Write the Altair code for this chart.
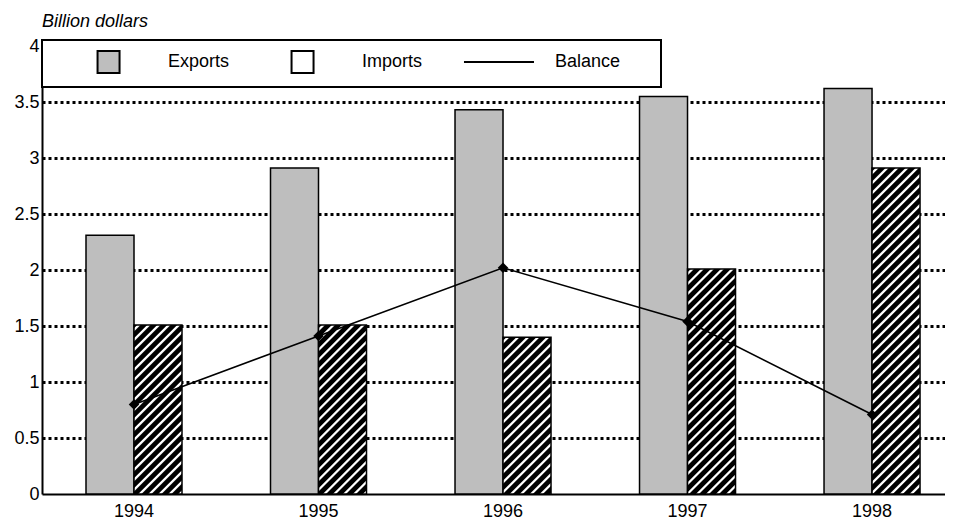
import altair as alt
import pandas as pd

# ---- data ----
years = ["1994", "1995", "1996", "1997", "1998"]
exports = [2.31, 2.91, 3.43, 3.55, 3.62]
imports = [1.51, 1.51, 1.40, 2.01, 2.91]
balance = [0.80, 1.41, 2.02, 1.54, 0.71]
series_names = ["Exports", "Imports", "Balance"]
y_ticks = [0, 0.5, 1, 1.5, 2, 2.5, 3, 3.5, 4]

FONT = "Liberation Sans"
PLOT_W, PLOT_H = 903, 448
Y_MAX = 4

bars_df = pd.DataFrame(
    [{"year": y, "series": "Exports", "value": v} for y, v in zip(years, exports)]
    + [{"year": y, "series": "Imports", "value": v} for y, v in zip(years, imports)]
)
bal_df = pd.DataFrame({"year": years, "balance": balance})
leg_df = pd.DataFrame({"series": series_names})

# x band scale geometry
P_IN, P_OUT, ALIGN = 0.4797, 0.1869, 0.638
step = PLOT_W / (len(years) - P_IN + 2 * P_OUT)
bar_w = step * (1 - P_IN) / 2
px_per_unit = PLOT_H / Y_MAX


def hatch(v):
    """Diagonal white-on-black stripes as a linear gradient in bbox units."""
    W, H = bar_w, v * px_per_unit
    s = (W + H) / (W * W + H * H)
    n = (W + H) / 10.0
    d = 1.0 / n
    stops = []
    k = 0
    while k * d < 1:
        for frac, col in [(0, "#000000"), (0.27, "#000000"), (0.41, "#ffffff"),
                          (0.59, "#ffffff"), (0.73, "#000000")]:
            t = k * d + frac * d
            if t <= 1:
                stops.append({"offset": round(t, 5), "color": col})
        k += 1
    stops.append({"offset": 1, "color": "#000000"})
    return {"gradient": "linear", "x1": 0, "y1": 0,
            "x2": round(s * W, 5), "y2": round(s * H, 5), "stops": stops}


fill_cond = [
    {"test": f"datum.series === 'Imports' && datum.year === '{y}'", "value": hatch(v)}
    for y, v in zip(years, imports)
]

x_scale = alt.Scale(paddingInner=P_IN, paddingOuter=P_OUT, align=ALIGN)
y_scale = alt.Scale(domain=[0, Y_MAX], nice=False, zero=True)

x_axis = alt.Axis(title=None, labelAngle=0, ticks=False, tickSize=0, labelPadding=8,
                  domainColor="black", domainWidth=2, grid=False)
y_axis = alt.Axis(title=None, values=y_ticks, format=".1~f", ticks=False, tickSize=0,
                  labelPadding=3, domainColor="black", domainWidth=2,
                  grid=True, gridColor="black", gridDash=[3, 3], gridWidth=3,
                  gridOpacity={"condition": {"test": "datum.value === 0 || datum.value === 4",
                                             "value": 0}, "value": 1})

bars = alt.Chart(bars_df).mark_bar(stroke="black", strokeWidth=1.5).encode(
    x=alt.X("year:N", scale=x_scale, axis=x_axis, sort=years),
    xOffset=alt.XOffset("series:N", scale=alt.Scale(domain=["Exports", "Imports"],
                                                    paddingInner=0, paddingOuter=0)),
    y=alt.Y("value:Q", scale=y_scale, axis=y_axis),
    fill={"condition": fill_cond, "value": "#bebebe"},
)

line = alt.Chart(bal_df).mark_line(color="black", strokeWidth=1.6).encode(
    x=alt.X("year:N", sort=years),
    y=alt.Y("balance:Q"),
)
markers = alt.Chart(bal_df).mark_point(shape="diamond", filled=True, color="black",
                                       size=110, opacity=1).encode(
    x=alt.X("year:N", sort=years),
    y=alt.Y("balance:Q"),
)

# legend symbols (custom paths; leading moves keep every symbol's bounds equal)
shift = 4.05
sq = f"M-1,-1M1,1M{shift-1:.3f},-1H{shift+1:.3f}V1H{shift-1:.3f}Z"
ln = "M-1,-1M1,1M1.18,0H7.545"
pad = "\u00a0" * 6 + "\u200b"
leg = alt.Legend(
    title=None, orient="none", legendX=0, legendY=-6, direction="horizontal",
    strokeColor="black", fillColor="white", padding=10,
    symbolSize=484, symbolStrokeWidth=2, symbolOffset=0, symbolOpacity=1,
    labelFont=FONT, labelFontSize=18, labelColor="black", labelOffset=92,
    labelLimit=400, columnPadding=13,
    labelExpr=f"datum.label === 'Balance' ? 'Balance{pad}' : datum.label",
)
# legend-only layer: its marks sit left of the page, out of sight
legend_layer = alt.Chart(leg_df).mark_point(filled=True, strokeWidth=2, opacity=1).encode(
    x=alt.value(-600),
    y=alt.value(200),
    fill=alt.Fill("series:N", scale=alt.Scale(domain=series_names,
                                              range=["#bebebe", "#ffffff", "#000000"]), legend=leg),
    stroke=alt.Stroke("series:N", scale=alt.Scale(domain=series_names,
                                                  range=["#000000", "#000000", "#000000"]), legend=leg),
    shape=alt.Shape("series:N", scale=alt.Scale(domain=series_names,
                                                range=[sq, sq, ln]), legend=leg),
)

chart = alt.layer(bars, line, markers, legend_layer).properties(
    width=PLOT_W,
    height=PLOT_H,
    autosize=alt.AutoSizeParams(type="none"),
    padding={"left": 34, "top": 38, "right": 0, "bottom": 29},
    title=alt.Title("Billion dollars", anchor="start", frame="group", fontSize=18,
                    fontStyle="italic", fontWeight="normal", font=FONT, color="black",
                    offset=6),
).configure_view(stroke=None).configure_axis(
    labelFont=FONT, labelFontSize=18, labelColor="black"
).configure_legend(strokeWidth=2)

chart.save("out.html", embed_options={"renderer": "svg", "actions": False})
